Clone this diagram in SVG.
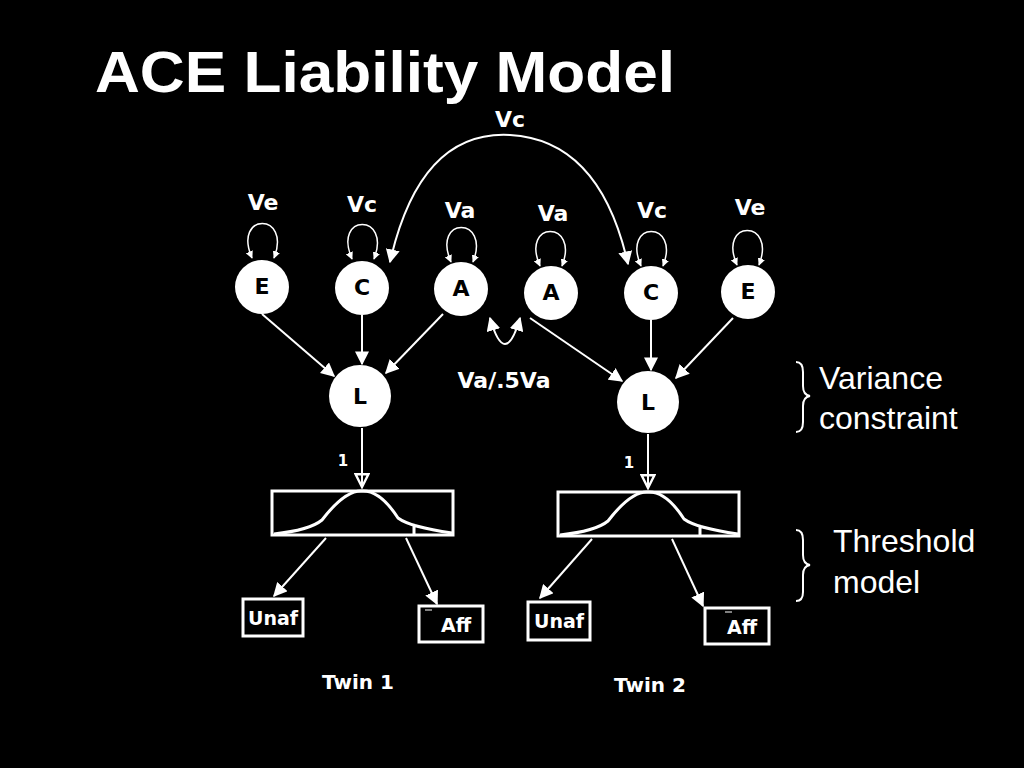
<svg xmlns="http://www.w3.org/2000/svg" width="1024" height="768" viewBox="0 0 1024 768">
<defs>
<marker id="ah" viewBox="0 0 10 10" refX="9" refY="5" markerWidth="7" markerHeight="7" orient="auto-start-reverse"><path d="M0,0 L10,5 L0,10 z" fill="#fff"/></marker>
<marker id="sm" viewBox="0 0 10 10" refX="9" refY="5" markerWidth="5" markerHeight="5" orient="auto-start-reverse"><path d="M0,0 L10,5 L0,10 z" fill="#fff"/></marker>
<marker id="tri" viewBox="0 0 10 10" refX="9" refY="5" markerWidth="8" markerHeight="8" orient="auto"><path d="M1,1 L9,5 L1,9 z" fill="none" stroke="#fff" stroke-width="1.5"/></marker>
</defs>
<style>
.t{font-family:"DejaVu Sans",sans-serif;font-weight:bold;fill:#fff}
.n{fill:#fff}
.nl{font-family:"DejaVu Sans",sans-serif;font-weight:bold;fill:#000;font-size:22px;text-anchor:middle}
.c{stroke:#fff;stroke-width:2;fill:none}
.ca{stroke:#fff;stroke-width:2;fill:none;marker-end:url(#ah)}
.lp{stroke:#fff;stroke-width:1.5;fill:none;marker-start:url(#sm);marker-end:url(#sm)}
.b{stroke:#fff;stroke-width:3;fill:none}
.s{font-family:"Liberation Sans",Arial,sans-serif;fill:#fff;font-size:32px}
</style>
<rect width="1024" height="768" fill="#000"/>
<text x="95" y="92" font-family="Liberation Sans,Arial,sans-serif" font-weight="bold" font-size="58" textLength="580" lengthAdjust="spacingAndGlyphs" fill="#fff">ACE Liability Model</text>
<g class="t" font-size="22" text-anchor="middle">
<text x="510" y="127">Vc</text>
<text x="263" y="210">Ve</text><text x="362" y="212">Vc</text><text x="460" y="218">Va</text>
<text x="553" y="221">Va</text><text x="652" y="218">Vc</text><text x="750" y="215">Ve</text>
<text x="504" y="388">Va/.5Va</text>
<text x="343" y="466" font-size="15">1</text><text x="629" y="468" font-size="15">1</text>
<text x="358" y="689" font-size="20">Twin 1</text><text x="650" y="692" font-size="20">Twin 2</text>
</g>
<g id="connectors">
<path class="c" d="M390,262 Q420,130 510,135 Q600,140 628,264" marker-start="url(#ah)" marker-end="url(#ah)"/>
<path class="c" d="M490,318 Q505,370 520,318" marker-start="url(#ah)" marker-end="url(#ah)"/>
<path class="lp" d="M252,258 C232,212 292,212 274,258"/>
<path class="lp" d="M352,259 C332,213 392,213 374,259"/>
<path class="lp" d="M451,262 C431,216 491,216 473,262"/>
<path class="lp" d="M540,266 C520,220 580,220 562,266"/>
<path class="lp" d="M641,266 C621,220 681,220 663,266"/>
<path class="lp" d="M737,265 C717,219 777,219 759,265"/>
<line class="ca" x1="262" y1="314" x2="334" y2="376"/>
<line class="ca" x1="362" y1="315" x2="362" y2="364"/>
<line class="ca" x1="443" y1="314" x2="386" y2="373"/>
<line class="ca" x1="530" y1="318" x2="622" y2="381"/>
<line class="ca" x1="651" y1="320" x2="651" y2="370"/>
<line class="ca" x1="733" y1="318" x2="676" y2="378"/>
<line class="c" x1="362" y1="428" x2="362" y2="487" marker-end="url(#tri)"/>
<line class="c" x1="648" y1="434" x2="648" y2="488" marker-end="url(#tri)"/>
<line class="ca" x1="326" y1="538" x2="274" y2="596"/>
<line class="ca" x1="406" y1="538" x2="437" y2="604"/>
<line class="ca" x1="592" y1="539" x2="540" y2="598"/>
<line class="ca" x1="672" y1="539" x2="703" y2="606"/>
</g>
<g id="E1"><circle class="n" cx="262" cy="287" r="27"/><text class="nl" x="262" y="294">E</text></g>
<g id="C1"><circle class="n" cx="362" cy="288" r="27"/><text class="nl" x="362" y="295">C</text></g>
<g id="A1"><circle class="n" cx="461" cy="289" r="27"/><text class="nl" x="461" y="296">A</text></g>
<g id="A2"><circle class="n" cx="551" cy="293" r="27"/><text class="nl" x="551" y="300">A</text></g>
<g id="C2"><circle class="n" cx="651" cy="293" r="27"/><text class="nl" x="651" y="300">C</text></g>
<g id="E2"><circle class="n" cx="748" cy="292" r="27"/><text class="nl" x="748" y="299">E</text></g>
<g id="L1"><circle class="n" cx="360" cy="396" r="31"/><text class="nl" x="360" y="404">L</text></g>
<g id="L2"><circle class="n" cx="648" cy="402" r="31"/><text class="nl" x="648" y="410">L</text></g>
<g id="box1"><rect class="b" x="272" y="491" width="181" height="44"/><path class="b" stroke-width="2.5" d="M274,534 Q310,530 322,520 Q345,490 362,491 Q380,490 398,518 Q410,527 452,533 M414,524 V534"/></g>
<g id="box2"><rect class="b" x="558" y="492" width="181" height="44"/><path class="b" stroke-width="2.5" d="M560,535 Q596,531 608,521 Q631,491 648,492 Q666,491 684,519 Q696,528 738,534 M700,525 V535"/></g>
<g id="unaf1"><rect class="b" x="243" y="599" width="60" height="37"/><text class="t" x="273" y="625" font-size="19" text-anchor="middle">Unaf</text></g>
<g id="aff1"><rect class="b" x="419" y="606" width="64" height="36"/><text class="t" x="456" y="632" font-size="19" text-anchor="middle">Aff</text><line x1="425" y1="610" x2="432" y2="610" stroke="#fff"/></g>
<g id="unaf2"><rect class="b" x="528" y="602" width="62" height="38"/><text class="t" x="559" y="628" font-size="19" text-anchor="middle">Unaf</text></g>
<g id="aff2"><rect class="b" x="705" y="608" width="64" height="36"/><text class="t" x="742" y="634" font-size="19" text-anchor="middle">Aff</text><line x1="725" y1="612" x2="732" y2="612" stroke="#fff"/></g>
<path class="c" d="M796,362 Q803,362 803,372 L803,386 Q803,395 810,396 Q803,397 803,406 L803,422 Q803,432 796,432"/>
<path class="c" d="M796,530 Q803,530 803,540 L803,555 Q803,564 810,565 Q803,566 803,575 L803,592 Q803,601 796,601"/>
<text class="s" x="819" y="389">Variance</text><text class="s" x="819" y="429">constraint</text>
<text class="s" x="833" y="552">Threshold</text><text class="s" x="833" y="593">model</text>
</svg>
